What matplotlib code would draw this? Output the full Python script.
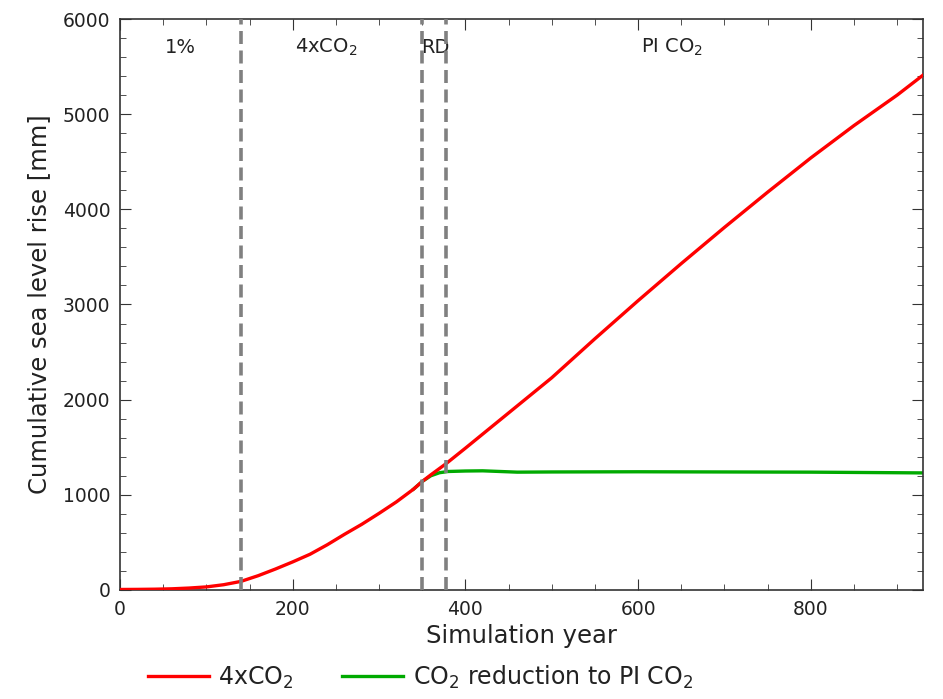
import matplotlib
matplotlib.use("Agg")
import matplotlib.pyplot as plt
from matplotlib.ticker import MultipleLocator

# red: 4xCO2 run
years_4x = [0, 20, 40, 60, 80, 100, 120, 140, 160, 180, 200, 220, 240, 260, 280,
            300, 320, 340, 350, 360, 378, 400, 450, 500, 550, 600, 650, 700, 750,
            800, 850, 900, 930]
slr_4x = [5, 6, 8, 12, 20, 32, 55, 90, 150, 220, 295, 375, 475, 585, 690,
          805, 925, 1060, 1140, 1210, 1330, 1490, 1860, 2230, 2640, 3040, 3430,
          3810, 4180, 4540, 4880, 5200, 5410]

# green: CO2 reduction run
years_red = [340, 350, 360, 370, 380, 400, 420, 440, 460, 500, 600, 700, 800, 900, 930]
slr_red = [1060, 1140, 1200, 1232, 1245, 1250, 1252, 1245, 1238, 1240, 1242, 1240,
           1238, 1232, 1230]

phase_lines = [140, 350, 378]
phase_labels = ["1%", "4xCO$_2$", "RD", "PI CO$_2$"]
phase_label_x = [70, 239, 365, 639]

fig = plt.figure(figsize=(9.43, 6.99), dpi=100)
ax = fig.add_axes([0.1273, 0.156, 0.8515, 0.8168])

ax.plot(years_4x, slr_4x, color="red", lw=2.4, label="4xCO$_2$", zorder=3)
ax.plot(years_red, slr_red, color="#00aa00", lw=2.4,
        label="CO$_2$ reduction to PI CO$_2$", zorder=2)
for xv in phase_lines:
    ax.axvline(xv, color="gray", ls="--", lw=2.6, dashes=(3.6, 1.8), zorder=4)
for lab, xv in zip(phase_labels, phase_label_x):
    ax.text(xv, 5700, lab, ha="center", va="center", fontsize=14, color="#222222")

ax.set_xlim(0, 930)
ax.set_ylim(0, 6000)
ax.xaxis.set_major_locator(MultipleLocator(200))
ax.xaxis.set_minor_locator(MultipleLocator(50))
ax.yaxis.set_major_locator(MultipleLocator(1000))
ax.yaxis.set_minor_locator(MultipleLocator(200))
ax.tick_params(which="both", direction="in", top=True, right=True, labelsize=13.5,
               color="#333333", labelcolor="#222222")
ax.tick_params(which="major", length=8, pad=7)
ax.tick_params(which="minor", length=4)
for s in ax.spines.values():
    s.set_linewidth(1.2)
    s.set_color("#333333")

ax.set_xlabel("Simulation year", fontsize=17.5, color="#222222")
ax.set_ylabel("Cumulative sea level rise [mm]", fontsize=17.5, color="#222222",
              labelpad=8)
ax.legend(loc="upper center", bbox_to_anchor=(0.374, -0.1), ncol=2, frameon=False,
          fontsize=17, handlelength=2.6, handletextpad=0.4, columnspacing=2.05,
          labelcolor="#222222", borderaxespad=0.3)

fig.savefig("out.png", dpi=100)
